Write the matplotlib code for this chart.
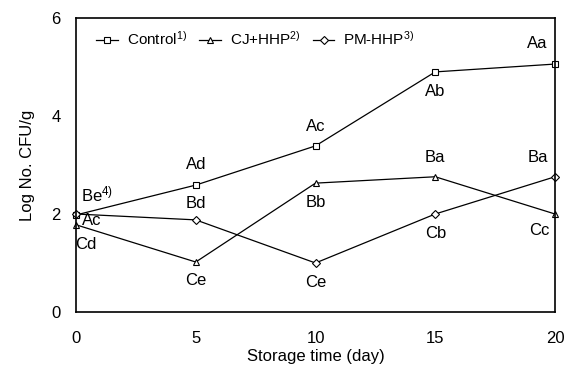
import numpy as np
import matplotlib
import matplotlib.pyplot as plt

plt.rcParams["font.family"] = ["Liberation Sans", "DejaVu Sans"]
plt.rcParams["mathtext.fontset"] = "custom"
plt.rcParams["mathtext.rm"] = "Liberation Sans"
plt.rcParams["mathtext.it"] = "Liberation Sans"
plt.rcParams["font.size"] = 12

# data
days = [0, 5, 10, 15, 20]
control = [1.98, 2.59, 3.39, 4.90, 5.06]
cj_hhp = [1.78, 1.02, 2.63, 2.76, 2.00]
pm_hhp = [2.00, 1.88, 1.00, 2.00, 2.76]

control_lab = ["Be$^{4)}$", "Ad", "Ac", "Ab", "Aa"]
cj_lab = ["Cd", "Ce", "Bb", "Ba", "Cc"]
pm_lab = ["Ac", "Bd", "Ce", "Cb", "Ba"]

fig = plt.figure(figsize=(5.69, 3.71), dpi=100)
ax = fig.add_axes([76/569, 1-312/371, (555-76)/569, (312-18)/371])

ax.plot(days, control, color='black', lw=0.9, marker='s', ms=5, mfc='white',
        mec='black', mew=0.8, clip_on=False, label='Control$^{1)}$')
ax.plot(days, cj_hhp, color='black', lw=0.9, marker='^', ms=5, mfc='white',
        mec='black', mew=0.8, clip_on=False, label='CJ+HHP$^{2)}$')
ax.plot(days, pm_hhp, color='black', lw=0.9, marker='D', ms=4, mfc='white',
        mec='black', mew=0.8, clip_on=False, label='PM-HHP$^{3)}$')

# letter labels (offsets in points)
ctrl_off = [(15, 15), (0, 15), (0, 14), (0, -14), (-13, 15)]
cj_off = [(7, -14), (0, -13), (0, -14), (0, 14), (-11, -12)]
pm_off = [(11, -5), (0, 12), (0, -14), (0, -14), (-12, 14)]
for lab, off, ys in [(control_lab, ctrl_off, control), (cj_lab, cj_off, cj_hhp), (pm_lab, pm_off, pm_hhp)]:
    for x, y, t, o in zip(days, ys, lab, off):
        ax.annotate(t, (x, y), xytext=o, textcoords='offset points',
                    ha='center', va='center')

ax.set_xlim(0, 20)
ax.set_ylim(0, 6)
ax.set_xticks([0, 5, 10, 15, 20])
ax.set_yticks([0, 2, 4, 6])
ax.tick_params(length=0, pad=14)
ax.tick_params(axis='y', pad=11)
for s in ax.spines.values():
    s.set_linewidth(1.2)

ax.set_xlabel('Storage time (day)', labelpad=2)
ax.set_ylabel('Log No. CFU/g')
ax.yaxis.set_label_coords(-0.085, 0.5)

ax.legend(loc='upper left', ncol=3, frameon=False, fontsize=11, handlelength=1.4,
          handletextpad=0.6, columnspacing=0.8, bbox_to_anchor=(0.02, 0.995),
          borderaxespad=0.3)

plt.savefig('out.png')
